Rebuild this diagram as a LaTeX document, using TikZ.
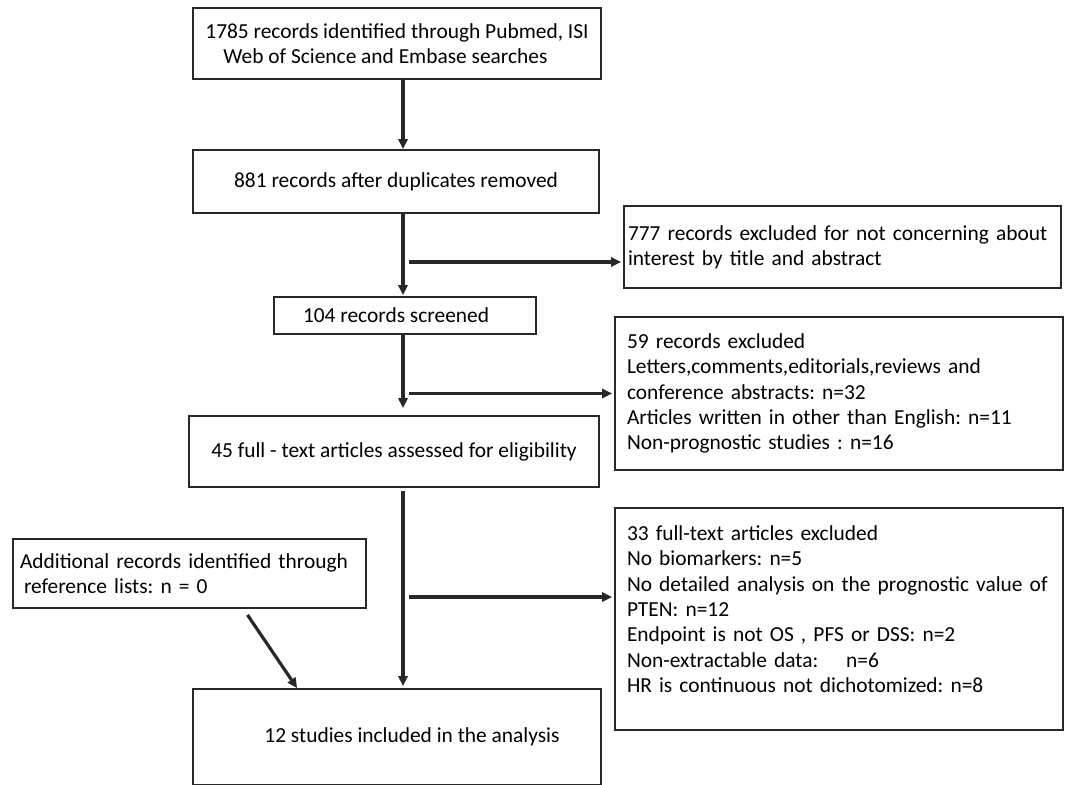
\documentclass[tikz,border=0pt]{standalone}
\usepackage{fontspec}
\setmainfont{Carlito}
\usetikzlibrary{arrows.meta,positioning}
\definecolor{lineGray}{RGB}{40,40,40}
\frenchspacing

\begin{document}
\begin{tikzpicture}[x=0.5pt,y=-0.5pt,>={Triangle[length=5pt,width=4.6pt]},
  box/.style={draw=lineGray,line width=0.9pt,inner sep=0pt,font=\fontsize{10.7}{12.7}\selectfont},
  excl/.style={box,align=left,inner xsep=6pt,text width=212pt},
  flow/.style={->,line width=1.6pt,lineGray}]
\clip (0,0) rectangle (1065,784);
\coordinate (spine) at (403,0);
\node[box,align=left,minimum width=204pt,minimum height=35.5pt] (search) at (397,43.5) {1785 records identified through Pubmed, ISI\\\hspace*{9pt}Web of Science and Embase searches};
\node[box,minimum width=203pt,minimum height=31.5pt] (dedup) at (396,181.5) {881 records after duplicates removed};
\node[box,align=left,inner xsep=2pt,text width=214.5pt,minimum height=41pt] (excla) at (842.5,247) {777 records excluded for not concerning about\\interest by title and abstract};
\node[box,minimum width=131pt,minimum height=18.5pt] (screen) at (405,315.5) {104 records screened\hspace*{9pt}};
\node[excl,minimum height=76.5pt] (exclb) at (839,393.5) {59 records excluded\\Letters,comments,editorials,reviews and\\conference abstracts: n=32\\Articles written in other than English: n=11\\Non-prognostic studies : n=16};
\node[box,minimum width=205pt,minimum height=35.5pt] (fulltext) at (394,451.5) {45 full - text articles assessed for eligibility};
\node[excl,minimum height=111pt] (exclc) at (839,619) {33 full-text articles excluded\\No biomarkers: n=5\\No detailed analysis on the prognostic value of\\PTEN: n=12\\Endpoint is not OS , PFS or DSS: n=2\\Non-extractable data:\hspace{1.3em}n=6\\HR is continuous not dichotomized: n=8\\[-2.7pt]\mbox{}};
\node[box,align=left,inner xsep=3.5pt,text width=169.5pt,minimum height=34.5pt] (extra) at (189.5,573.5) {Additional records identified through\\\hspace*{2pt}reference lists: n = 0};
\node[box,minimum width=204pt,minimum height=48pt] (incl) at (397,737) {\hspace*{15pt}12 studies included in the analysis};
% main flow
\draw[flow] (search.south -| spine) -- (dedup.north -| spine);
\draw[flow] (dedup.south -| spine) -- ([yshift=0.5pt]screen.north -| spine);
\draw[flow] (screen.south -| spine) -- ([yshift=3.5pt]fulltext.north -| spine);
\draw[flow] ([yshift=-1.5pt]fulltext.south -| spine) -- ([yshift=1pt]incl.north -| spine);
% exclusions
\draw[flow] ([xshift=3pt,yshift=-7.5pt]spine |- excla.west) -- ([xshift=-1pt,yshift=-7.5pt]excla.west);
\draw[flow] ([xshift=3pt]spine |- exclb.west) -- ([xshift=-1pt]exclb.west);
\draw[flow] ([xshift=3pt,yshift=11pt]spine |- exclc.west) -- ([xshift=-1pt,yshift=11pt]exclc.west);
\draw[flow] ([xshift=29pt,yshift=-3pt]extra.south) -- ([xshift=52.5pt]incl.north west);
\end{tikzpicture}
\end{document}
